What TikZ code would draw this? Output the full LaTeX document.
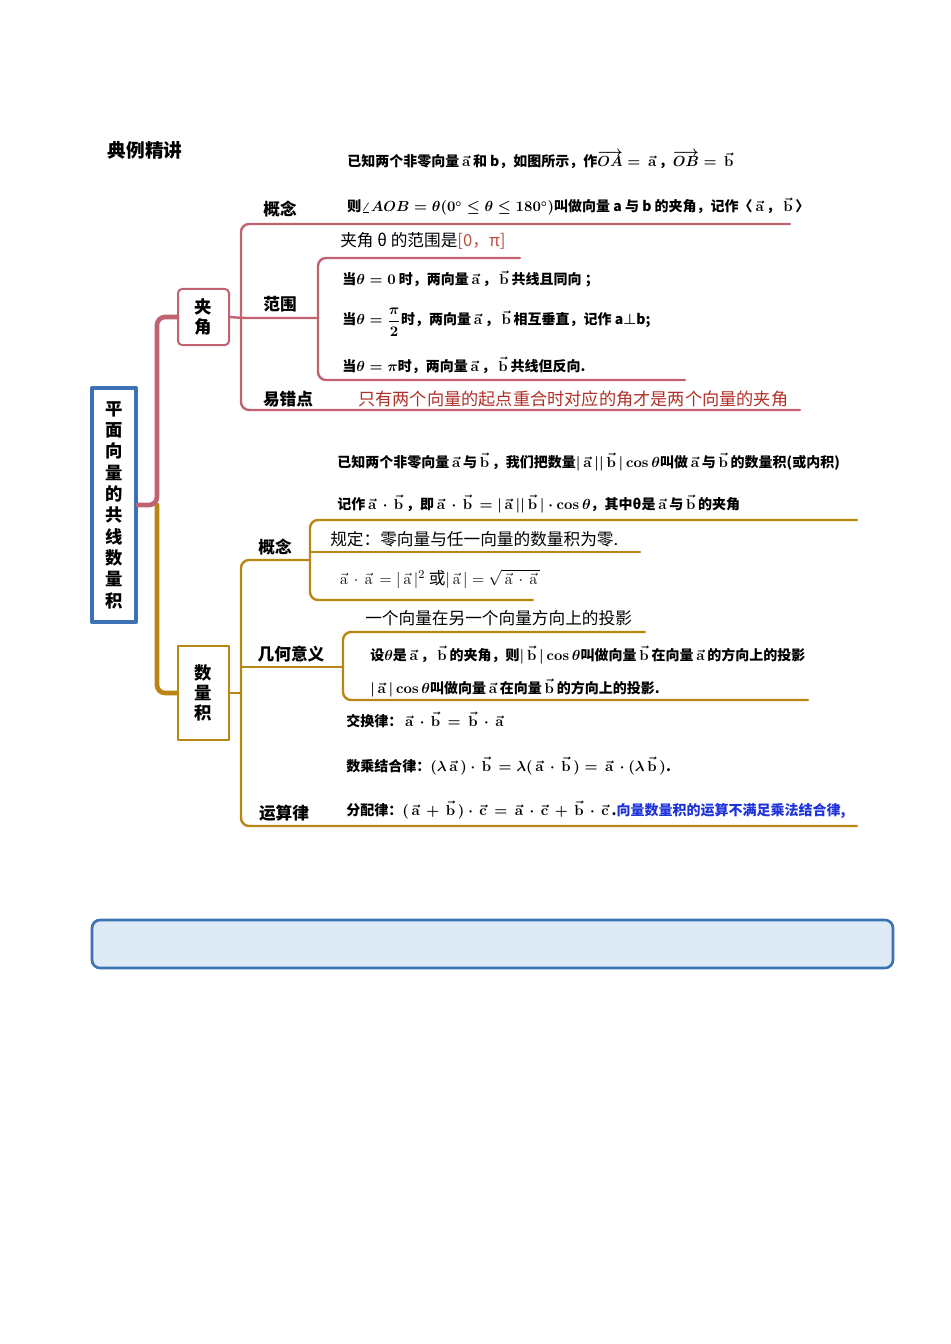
\documentclass[tikz,border=0pt]{standalone}
\usepackage[no-math]{fontspec}
\setmainfont{Noto Sans CJK SC}
\usepackage{amsmath}
\usetikzlibrary{positioning}

\definecolor{jiared}{RGB}{192,98,112}
\definecolor{shugold}{RGB}{184,134,20}
\definecolor{rootblue}{RGB}{62,112,180}
\definecolor{warnred}{RGB}{176,48,40}
\definecolor{rangered}{RGB}{181,82,59}
\definecolor{noteblue}{RGB}{30,50,220}
\definecolor{tipfill}{RGB}{222,234,246}
\definecolor{tipedge}{RGB}{60,115,180}

\newcommand{\va}[1]{\,\vec{\mathrm{#1}}\,}

\begin{document}
\begin{tikzpicture}[x=0.75pt, y=-0.75pt, line cap=round, line join=round,
    redtrunk/.style={draw=jiared, line width=3.5pt, rounded corners=6pt},
    goldtrunk/.style={draw=shugold, line width=3.5pt, rounded corners=6pt},
    redline/.style={draw=jiared, line width=1.8pt, rounded corners=6pt},
    goldline/.style={draw=shugold, line width=1.8pt, rounded corners=6pt},
    txt/.style={anchor=base west, inner sep=0pt, font=\fontsize{10.5}{12}\selectfont\bfseries\boldmath},
    bigtxt/.style={anchor=base west, inner sep=0pt, font=\fontsize{12.5}{15}\selectfont},
    lbl/.style={inner sep=0pt, font=\fontsize{12.5}{15}\selectfont\bfseries},
    vbox/.style={align=center, inner sep=0pt, font=\fontsize{13}{14.5}\selectfont\bfseries}]
  \useasboundingbox (0,0) rectangle (950,1344);

  \node[font=\fontsize{14}{16}\selectfont\bfseries] (title) at (145,150) {典例精讲};

  % root and its two boxes
  \node[vbox, draw=rootblue, line width=3pt, minimum width=33pt, minimum height=175.5pt,
        font=\fontsize{13}{16}\selectfont\bfseries]
      (root) at (114,505) {平\\面\\向\\量\\的\\共\\线\\数\\量\\积};
  \node[vbox, draw=jiared, line width=1.5pt, rounded corners=3pt,
        minimum width=38.25pt, minimum height=42pt] (jiajiao) at (203.5,317) {夹\\角};
  \node[vbox, draw=shugold, line width=1.5pt,
        minimum width=38.25pt, minimum height=70.5pt, font=\fontsize{13}{15}\selectfont\bfseries]
      (shuliang) at (203.5,693) {数\\量\\积};

  \coordinate (rj) at (157,505);
  \draw[goldtrunk] (rj) |- (shuliang.west);
  \draw[redtrunk] (root.east) -- (rj) |- (jiajiao.west);

  % 夹角 branch
  \coordinate (jj) at (241,318);
  \coordinate (jjtop) at (241,224);
  \coordinate (jjbot) at (241,410);
  \coordinate (gn-e) at (790,224);
  \coordinate (yc-e) at (800,410);
  \coordinate (fwj) at (318,318);
  \coordinate (fwtop) at (318,258);
  \coordinate (fwtop-e) at (520,258);
  \coordinate (fwbot) at (318,380);
  \coordinate (fwbot-e) at (685,380);
  \draw[redline] (gn-e) -- (jjtop) -- (jjbot) -- (yc-e);
  \draw[redline] (jiajiao.east) -- (jj) -- (fwj);
  \draw[redline] (fwtop-e) -- (fwtop) -- (fwbot) -- (fwbot-e);

  \node[lbl] (gn1) at (280,209) {概念};
  \node[lbl] (fw) at (280,304) {范围};
  \node[lbl] (ycd) at (288,399) {易错点};

  \node[txt] (def1) at (347,167) {已知两个非零向量$\va{a}$和 b，如图所示，作$\overrightarrow{OA}=\va{a}$，$\overrightarrow{OB}=\va{b}$};
  \node[txt] (def2) at (347,212) {则$\angle AOB=\theta(0^\circ\le\theta\le180^\circ)$叫做向量 a 与 b 的夹角，记作〈$\va{a}$，$\va{b}$〉};
  \node[bigtxt] (rng) at (340,247) {夹角 θ 的范围是\textcolor{rangered}{[0，π]}};
  \node[txt] (c1) at (342,285) {当$\theta=0$ 时，两向量$\va{a}$，$\va{b}$共线且同向 ；};
  \node[txt] (c2) at (342,325) {当$\theta=\dfrac{\pi}{2}$时，两向量$\va{a}$，$\va{b}$相互垂直，记作 a$\perp$b;};
  \node[txt] (c3) at (342,371) {当$\theta=\pi$时，两向量$\va{a}$，$\va{b}$共线但反向.};
  \node[bigtxt, text=warnred, font=\fontsize{12.9}{15}\selectfont] (warn) at (358,405) {只有两个向量的起点重合时对应的角才是两个向量的夹角};

  % 数量积 branch
  \coordinate (sj) at (241,693);
  \coordinate (sjtop) at (241,560);
  \coordinate (sjbot) at (241,826);
  \coordinate (gnj) at (310,560);
  \coordinate (ys-e) at (857,826);
  \coordinate (jyj) at (343,667);
  \coordinate (gnt) at (310,520);
  \coordinate (gnt-e) at (857,520);
  \coordinate (gnm) at (310,552);
  \coordinate (gnm-e) at (640,552);
  \coordinate (gnb) at (310,600);
  \coordinate (gnb-e) at (533,600);
  \coordinate (jyt) at (343,632);
  \coordinate (jyt-e) at (645,632);
  \coordinate (jyb) at (343,700);
  \coordinate (jyb-e) at (808,700);
  \draw[goldline] (gnj) -- (sjtop) -- (sjbot) -- (ys-e);
  \draw[goldline] (shuliang.east) -- (sj);
  \draw[goldline] (sj |- jyj) -- (jyj);
  \draw[goldline] (gnt-e) -- (gnt) -- (gnb) -- (gnb-e);
  \draw[goldline] (gnm) -- (gnm-e);
  \draw[goldline] (jyt-e) -- (jyt) -- (jyb) -- (jyb-e);

  \node[lbl] (gn2) at (275,547) {概念};
  \node[lbl] (jy) at (291,654) {几何意义};
  \node[lbl] (ys) at (284,813) {运算律};

  \node[txt] (d1) at (337,467) {已知两个非零向量$\va{a}$与$\va{b}$，我们把数量$|\va{a}||\va{b}|\cos\theta$叫做$\va{a}$与$\va{b}$的数量积(或内积)};
  \node[txt] (d2) at (337,509) {记作$\va{a}\cdot\va{b}$，即$\va{a}\cdot\va{b}=|\va{a}||\va{b}|\cdot\cos\theta$，其中θ是$\va{a}$与$\va{b}$的夹角};
  \node[bigtxt] (rule) at (330,545) {规定：零向量与任一向量的数量积为零.};
  \node[bigtxt] (sq) at (337,584) {$\va{a}\cdot\va{a}=|\va{a}|^2$ 或$|\va{a}|=\sqrt{\va{a}\cdot\va{a}}$};
  \node[bigtxt] (proj) at (365,624) {一个向量在另一个向量方向上的投影};
  \node[txt] (p1) at (370,660) {设$\theta$是$\va{a}$，$\va{b}$的夹角，则$|\va{b}|\cos\theta$叫做向量$\va{b}$在向量$\va{a}$的方向上的投影};
  \node[txt] (p2) at (370,693) {$|\va{a}|\cos\theta$叫做向量$\va{a}$在向量$\va{b}$的方向上的投影.};
  \node[txt] (law1) at (346,726) {交换律：$\va{a}\cdot\va{b}=\va{b}\cdot\va{a}$};
  \node[txt] (law2) at (346,771) {数乘结合律：$(\lambda\va{a})\cdot\va{b}=\lambda(\va{a}\cdot\va{b})=\va{a}\cdot(\lambda\va{b})$.};
  \node[txt] (law3) at (346,815) {分配律：$(\va{a}+\va{b})\cdot\va{c}=\va{a}\cdot\va{c}+\va{b}\cdot\va{c}$.\textcolor{noteblue}{向量数量积的运算不满足乘法结合律,}};

  % empty tip box
  \node[draw=tipedge, fill=tipfill, line width=2pt, rounded corners=6pt,
        minimum width=600.75pt, minimum height=36pt] (tip) at (492.5,944) {};
\end{tikzpicture}
\end{document}
